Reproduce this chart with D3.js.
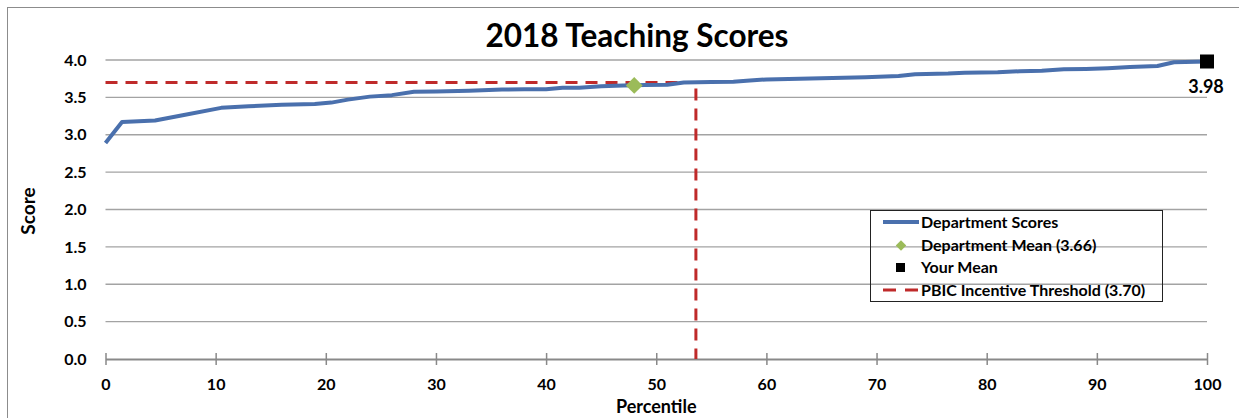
<!DOCTYPE html>
<html>
<head>
<meta charset="utf-8">
<script src="https://cdn.jsdelivr.net/npm/d3@7"></script>
<style>
  html, body { margin: 0; padding: 0; background: #fff; }
  svg text { font-family: Lato, "Open Sans", sans-serif; font-weight: bold; fill: #000; }
</style>
</head>
<body>
<svg id="chart" width="1239" height="418"></svg>
<script>
const percentiles = [0, 1.5, 4.5, 7, 10.5, 13, 16, 19, 20.5, 22, 24, 26, 28, 30, 33, 36, 38, 40, 41.5, 43, 45, 47, 49, 51, 52.5, 55, 57, 58.5, 60, 63, 66, 69, 72, 73.5, 76.5, 78, 81, 83, 85, 87, 89, 91, 93, 95.5, 97, 100];
const scores = [2.89, 3.17, 3.19, 3.26, 3.36, 3.38, 3.40, 3.41, 3.43, 3.47, 3.51, 3.53, 3.575, 3.58, 3.59, 3.605, 3.61, 3.61, 3.63, 3.63, 3.65, 3.66, 3.665, 3.67, 3.70, 3.705, 3.71, 3.725, 3.74, 3.75, 3.76, 3.77, 3.785, 3.81, 3.82, 3.83, 3.835, 3.85, 3.855, 3.875, 3.88, 3.89, 3.905, 3.92, 3.97, 3.98];
const deptMean = { percentile: 48, score: 3.66 };
const yourMean = { percentile: 100, score: 3.98, label: "3.98" };
const threshold = { percentile: 53.6, score: 3.70 };
const yTicks = [0, 0.5, 1, 1.5, 2, 2.5, 3, 3.5, 4];
const xTicks = [0, 10, 20, 30, 40, 50, 60, 70, 80, 90, 100];
const legendLabels = ["Department Scores", "Department Mean (3.66)", "Your Mean", "PBIC Incentive Threshold (3.70)"];
const title = "2018 Teaching Scores";

const svg = d3.select("#chart");
const x = d3.scaleLinear().domain([0, 100]).range([105.5, 1207]);
const y = d3.scaleLinear().domain([0, 4]).range([359, 60]);

const blue = "#4a70ad", red = "#bf2a2a", green = "#9bbb59", grid = "#a3a3a3";

// outer chart border (cropped on right/bottom)
svg.append("rect").attr("x", 7.5).attr("y", 7.5).attr("width", 1240).attr("height", 420)
  .attr("fill", "none").attr("stroke", "#8c8c8c").attr("stroke-width", 1);

// title
svg.append("text").attr("x", 637).attr("y", 47).attr("text-anchor", "middle")
  .style("font-size", "31.5px").text(title);

// gridlines
svg.append("g").selectAll("line").data(yTicks.filter(d => d > 0)).join("line")
  .attr("x1", x(0)).attr("x2", x(100)).attr("y1", d => y(d)).attr("y2", d => y(d))
  .attr("stroke", grid).attr("stroke-width", 1.3);

// y axis labels
const yAxis = d3.axisLeft(y).tickValues(yTicks).tickFormat(d3.format(".1f")).tickSize(0).tickPadding(19);
const yg = svg.append("g").attr("transform", `translate(${x(0)},0)`).call(yAxis);
yg.select(".domain").remove();
yg.selectAll("text").style("font-size", "16px").style("font-family", "Lato, sans-serif").style("font-weight", "bold").attr("fill", "#000");

// x axis
const xAxis = d3.axisBottom(x).tickValues(xTicks).tickSize(0).tickPadding(20);
const xg = svg.append("g").attr("transform", `translate(0,${y(0)})`).call(xAxis);
xg.select(".domain").attr("stroke", "#898989").attr("stroke-width", 2.2);
xg.selectAll("text").style("font-size", "16px").style("font-family", "Lato, sans-serif").style("font-weight", "bold").attr("fill", "#000");
xg.selectAll(".tick").append("line").attr("y1", -6).attr("y2", 6).attr("stroke", "#898989").attr("stroke-width", 1.5);

// axis titles
svg.append("text").attr("x", (x(0) + x(100)) / 2).attr("y", 413).attr("text-anchor", "middle")
  .style("font-size", "18px").text("Percentile");
svg.append("text").attr("transform", "translate(35,211) rotate(-90)").attr("text-anchor", "middle")
  .style("font-size", "19px").text("Score");

// threshold lines
const thr = svg.append("g").attr("stroke", red).attr("stroke-width", 3).attr("stroke-dasharray", "12,8").attr("fill", "none");
thr.append("line").attr("x1", x(0)).attr("x2", x(threshold.percentile))
  .attr("y1", y(threshold.score)).attr("y2", y(threshold.score));
thr.append("line").attr("x1", x(threshold.percentile)).attr("x2", x(threshold.percentile))
  .attr("y1", y(threshold.score) + 6).attr("y2", y(0));

// department scores line
const lineGen = d3.line().x((d, i) => x(percentiles[i])).y(d => y(d));
svg.append("path").datum(scores).attr("d", lineGen)
  .attr("fill", "none").attr("stroke", blue).attr("stroke-width", 4).attr("stroke-linejoin", "round");

// department mean diamond
svg.append("path").attr("d", d3.symbol().type(d3.symbolDiamond2).size(180)())
  .attr("transform", `translate(${x(deptMean.percentile)},${y(deptMean.score)})`)
  .attr("fill", green);

// your mean square
svg.append("rect").attr("x", x(yourMean.percentile) - 7).attr("y", y(yourMean.score) - 7)
  .attr("width", 14).attr("height", 14).attr("fill", "#000");
svg.append("text").attr("x", x(yourMean.percentile) - 1).attr("y", y(yourMean.score) + 32)
  .attr("text-anchor", "middle").style("font-size", "18px").text(yourMean.label);

// legend
const lg = svg.append("g");
lg.append("rect").attr("x", 870.5).attr("y", 210.5).attr("width", 292).attr("height", 91)
  .attr("fill", "none").attr("stroke", "#222").attr("stroke-width", 1);
const rowY = [222, 245.5, 267.5, 290];
lg.selectAll("text").data(legendLabels).join("text")
  .attr("x", 921).attr("y", (d, i) => rowY[i] + 5.5).style("font-size", "16px").text(d => d);
lg.append("line").attr("x1", 883).attr("x2", 919).attr("y1", rowY[0]).attr("y2", rowY[0])
  .attr("stroke", blue).attr("stroke-width", 4);
lg.append("path").attr("d", d3.symbol().type(d3.symbolDiamond2).size(70)())
  .attr("transform", `translate(901,${rowY[1]})`).attr("fill", green);
lg.append("rect").attr("x", 896).attr("y", rowY[2] - 4.5).attr("width", 9).attr("height", 9).attr("fill", "#000");
lg.append("line").attr("x1", 883).attr("x2", 919).attr("y1", rowY[3]).attr("y2", rowY[3])
  .attr("stroke", red).attr("stroke-width", 3).attr("stroke-dasharray", "13,9");
</script>
</body>
</html>
